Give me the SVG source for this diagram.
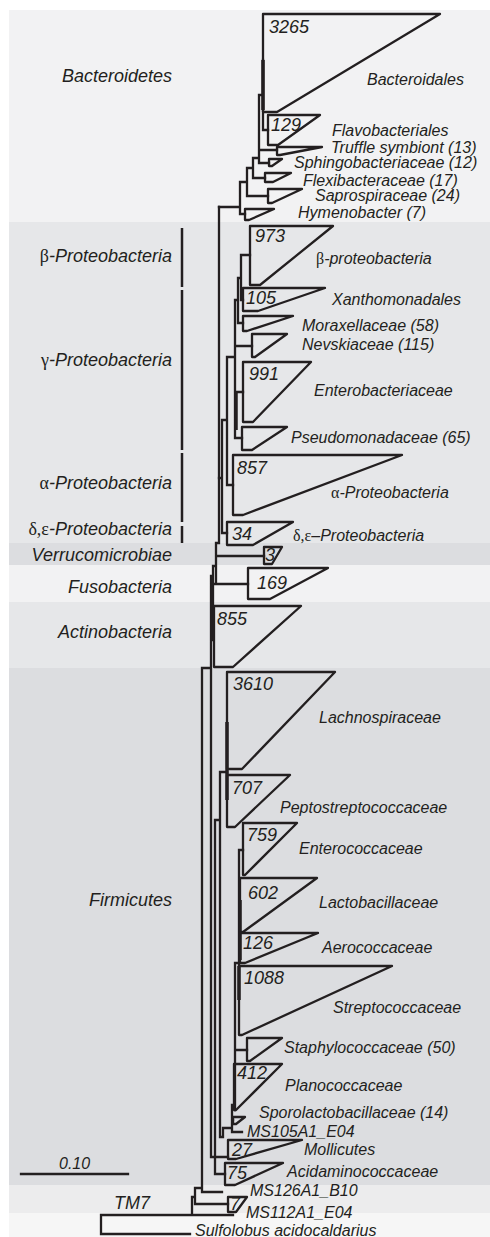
<svg xmlns="http://www.w3.org/2000/svg" width="490" height="1237" viewBox="0 0 490 1237">
<style>
.br{stroke:#231f20;stroke-width:2.3;fill:none;stroke-linecap:square}
.thick{stroke:#231f20;stroke-width:3.5;fill:none}
.tri{fill:none;stroke:#231f20;stroke-width:2.3;stroke-linejoin:round}
.bar{stroke:#231f20;stroke-width:2.5}
text{font-family:"Liberation Sans",Arial,sans-serif;font-style:italic;fill:#231f20}
.lb{font-size:16px}
.num{font-size:18px}
.grp{font-size:18px;text-anchor:end}
.gk{font-family:"Liberation Serif","Times New Roman",serif;font-style:normal}
</style>
<rect width="490" height="1237" fill="#ffffff"/>
<g id="bands">
<rect x="9" y="10" width="481" height="212" fill="#f2f2f3"/>
<rect x="9" y="222" width="481" height="321" fill="#e6e7e9"/>
<rect x="9" y="543" width="481" height="22" fill="#dcdde0"/>
<rect x="9" y="565" width="481" height="37" fill="#f2f2f3"/>
<rect x="9" y="602" width="481" height="66" fill="#e6e7e9"/>
<rect x="9" y="668" width="481" height="517" fill="#dcdde0"/>
<rect x="9" y="1185" width="481" height="28" fill="#ececed"/>
<rect x="9" y="1213" width="481" height="24" fill="#f6f6f6"/>
</g>
<g id="group-labels">
<text class="grp" x="172" y="82">Bacteroidetes</text>
<text class="grp" x="172" y="262"><tspan class="gk">β</tspan>-Proteobacteria</text>
<text class="grp" x="172" y="366"><tspan class="gk">γ</tspan>-Proteobacteria</text>
<text class="grp" x="172" y="489"><tspan class="gk">α</tspan>-Proteobacteria</text>
<text class="grp" x="172" y="535"><tspan class="gk">δ,ε</tspan>-Proteobacteria</text>
<text class="grp" x="172" y="561">Verrucomicrobiae</text>
<text class="grp" x="172" y="593">Fusobacteria</text>
<text class="grp" x="172" y="638">Actinobacteria</text>
<text class="grp" x="172" y="906">Firmicutes</text>
<text class="grp" x="150" y="1209">TM7</text>
<line class="bar" x1="182" y1="228" x2="182" y2="287"/>
<line class="bar" x1="182" y1="290" x2="182" y2="450"/>
<line class="bar" x1="182" y1="453" x2="182" y2="522"/>
<line class="bar" x1="182" y1="526" x2="182" y2="543"/>
</g>
<g id="scale">
<line class="br" x1="21" y1="1174" x2="128" y2="1174"/>
<text class="lb" x="59" y="1169">0.10</text>
</g>
<g id="connectors">
<path class="br" d="M219,207H240 M240,182V214 M240,214H245 M240,182H247 M247,168V196 M247,196H268 M247,168H253 M253,158V178 M253,178H265 M253,158H259 M259,95V163 M259,95H263 M259,150H277 M259,163H269 M263,60V130 M263,130H268"/>
<path class="br" d="M241,255V300 M241,255H250 M241,300H243 M238,278V323 M238,278H241 M238,323H243 M235,300V438 M235,300H238 M235,346H252 M235,392H243 M235,438H242 M227,357V485 M227,357H235 M227,485H233 M222,420V533 M222,420H227 M222,533H227 M219,478H222"/>
<path class="br" d="M219,207V543 M216,543H219 M216,543V583 M216,556H264 M213,566H216 M213,566V640 M213,584H248 M211,576H213 M211,576V1157 M211,1157H228 M202,668H211 M202,668V1192 M202,1192H222 M195,1188H202 M195,1188V1204 M195,1204H228 M192,1197H195 M192,1197V1215 M101,1215H233 M101,1215V1234 M101,1234H190"/>
<path class="br" d="M215,820V1174 M215,820H220 M215,1174H225 M220,772V1137 M220,772H227 M239,850V965 M239,850H243 M235,963V1110 M235,963H239 M235,1050H247 M232,1105V1132 M232,1120H233 M232,1132H242 M223,1128V1137 M223,1128H232 M220,1137H223"/>
<path class="thick" d="M263,60V110 M236,392V430 M227,722V800 M240,900V960 M239,966V1000"/>
</g>
<g id="bacteroidales"><polygon class="tri" points="263,14 440,14 277,112 263,112"/><text class="num" x="269" y="33">3265</text><text class="lb" x="367" y="85">Bacteroidales</text></g>
<g id="flavobacteriales"><polygon class="tri" points="268,115 320,115 278,145 268,145"/><text class="num" x="271" y="131">129</text><text class="lb" x="332" y="136">Flavobacteriales</text></g>
<g id="truffle"><polygon class="tri" points="277,147 322,147 280,155 277,155"/><text class="lb" x="331" y="153">Truffle symbiont (13)</text></g>
<g id="sphingobacteriaceae"><polygon class="tri" points="269,159 282,159 272,166 269,166"/><text class="lb" x="294" y="168">Sphingobacteriaceae (12)</text></g>
<g id="flexibacteraceae"><polygon class="tri" points="265,173 291,173 273,182 265,182"/><text class="lb" x="303" y="186">Flexibacteraceae (17)</text></g>
<g id="saprospiraceae"><polygon class="tri" points="268,189 302,189 272,203 268,203"/><text class="lb" x="315" y="201">Saprospiraceae (24)</text></g>
<g id="hymenobacter"><polygon class="tri" points="245,209 274,209 249,220 245,220"/><text class="lb" x="298" y="218">Hymenobacter (7)</text></g>
<g id="beta"><polygon class="tri" points="250,226 333,226 260,285 250,285"/><text class="num" x="255" y="242">973</text><text class="lb" x="316" y="264"><tspan class="gk">β</tspan>-proteobacteria</text></g>
<g id="xanthomonadales"><polygon class="tri" points="243,288 325,288 258,311 243,311"/><text class="num" x="246" y="304">105</text><text class="lb" x="332" y="305">Xanthomonadales</text></g>
<g id="moraxellaceae"><polygon class="tri" points="243,316 293,316 247,331 243,331"/><text class="lb" x="302" y="331">Moraxellaceae (58)</text></g>
<g id="nevskiaceae"><polygon class="tri" points="252,334 287,334 255,357 252,357"/><text class="lb" x="302" y="350">Nevskiaceae (115)</text></g>
<g id="enterobacteriaceae"><polygon class="tri" points="243,362 311,362 253,422 243,422"/><text class="num" x="249" y="380">991</text><text class="lb" x="314" y="396">Enterobacteriaceae</text></g>
<g id="pseudomonadaceae"><polygon class="tri" points="242,427 287,427 252,450 242,450"/><text class="lb" x="291" y="443">Pseudomonadaceae (65)</text></g>
<g id="alpha"><polygon class="tri" points="233,455 402,455 243,515 233,515"/><text class="num" x="237" y="474">857</text><text class="lb" x="331" y="498"><tspan class="gk">α</tspan>-Proteobacteria</text></g>
<g id="deltaeps"><polygon class="tri" points="227,522 293,522 253,545 227,545"/><text class="num" x="232" y="540">34</text><text class="lb" x="293" y="541"><tspan class="gk">δ,ε</tspan>–Proteobacteria</text></g>
<g id="verrucomicrobiae"><polygon class="tri" points="264,547 282,547 272,564 264,564"/><text class="num" x="265" y="561">3</text></g>
<g id="fusobacteria"><polygon class="tri" points="248,568 328,568 270,599 248,599"/><text class="num" x="257" y="589">169</text></g>
<g id="actinobacteria"><polygon class="tri" points="214,606 301,606 233,667 214,667"/><text class="num" x="217" y="625">855</text></g>
<g id="lachnospiraceae"><polygon class="tri" points="227,672 335,672 242,769 227,769"/><text class="num" x="233" y="690">3610</text><text class="lb" x="319" y="723">Lachnospiraceae</text></g>
<g id="peptostreptococcaceae"><polygon class="tri" points="227,775 290,775 235,827 227,827"/><text class="num" x="232" y="794">707</text><text class="lb" x="280" y="813">Peptostreptococcaceae</text></g>
<g id="enterococcaceae"><polygon class="tri" points="243,823 297,823 245,875 243,875"/><text class="num" x="247" y="841">759</text><text class="lb" x="299" y="854">Enterococcaceae</text></g>
<g id="lactobacillaceae"><polygon class="tri" points="240,878 317,878 243,932 240,932"/><text class="num" x="248" y="899">602</text><text class="lb" x="319" y="908">Lactobacillaceae</text></g>
<g id="aerococcaceae"><polygon class="tri" points="240,933 318,933 245,963 240,963"/><text class="num" x="243" y="949">126</text><text class="lb" x="322" y="953">Aerococcaceae</text></g>
<g id="streptococcaceae"><polygon class="tri" points="239,966 392,966 242,1035 239,1035"/><text class="num" x="244" y="984">1088</text><text class="lb" x="333" y="1013">Streptococcaceae</text></g>
<g id="staphylococcaceae"><polygon class="tri" points="247,1038 282,1038 250,1061 247,1061"/><text class="lb" x="284" y="1053">Staphylococcaceae (50)</text></g>
<g id="planococcaceae"><polygon class="tri" points="234,1064 282,1064 236,1110 234,1110"/><text class="num" x="237" y="1079">412</text><text class="lb" x="285" y="1091">Planococcaceae</text></g>
<g id="sporolactobacillaceae"><polygon class="tri" points="233,1117 245,1117 236,1124 233,1124"/><text class="lb" x="259" y="1118">Sporolactobacillaceae (14)</text></g>
<g id="ms105"><text class="lb" x="247" y="1137">MS105A1_E04</text></g>
<g id="mollicutes"><polygon class="tri" points="228,1140 302,1140 236,1159 228,1159"/><text class="num" x="232" y="1156">27</text><text class="lb" x="304" y="1155">Mollicutes</text></g>
<g id="acidaminococcaceae"><polygon class="tri" points="225,1163 283,1163 235,1185 225,1185"/><text class="num" x="227" y="1179">75</text><text class="lb" x="287" y="1177">Acidaminococcaceae</text></g>
<g id="ms126"><text class="lb" x="250" y="1196">MS126A1_B10</text></g>
<g id="tm7"><polygon class="tri" points="228,1197 247,1197 236,1212 228,1212"/><text class="num" x="230" y="1210">7</text></g>
<g id="ms112"><text class="lb" x="246" y="1218">MS112A1_E04</text></g>
<g id="sulfolobus"><text class="lb" x="195" y="1236" font-size="15.5">Sulfolobus acidocaldarius</text></g>
</svg>
